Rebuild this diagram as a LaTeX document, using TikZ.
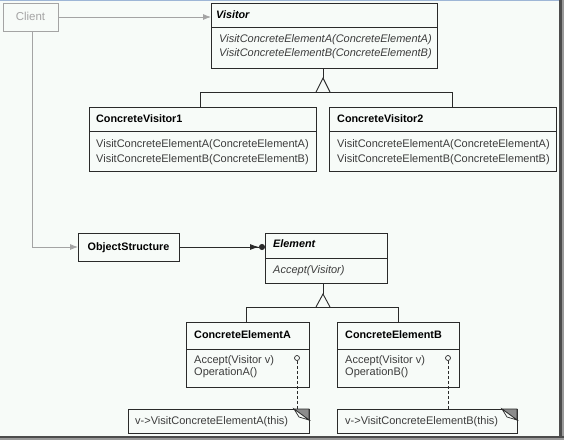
\documentclass[tikz,border=0pt]{standalone}
\usepackage{fontspec}
\setmainfont{Liberation Sans}
\usetikzlibrary{arrows.meta,calc}
\definecolor{bg}{HTML}{F7FBF8}
\definecolor{linec}{HTML}{2A2A2A}
\definecolor{txt}{HTML}{3C3C3C}
\definecolor{grayc}{HTML}{A4A4A4}
\definecolor{topblue}{HTML}{9EB6D6}
\definecolor{eargray}{HTML}{8C8C8C}
\begin{document}
\begin{tikzpicture}[x=1pt,y=-1pt,
  box/.style={draw=linec, line width=0.9pt, inner sep=0pt, outer sep=0pt, anchor=north west},
  graybox/.style={box, draw=grayc},
  lbl/.style={anchor=west, inner sep=0pt, text height=8pt, text depth=2pt, font=\fontsize{11}{12}\selectfont, text=txt},
  ttl/.style={lbl, text=black, font=\fontsize{10.8}{12}\selectfont\bfseries},
  abst/.style={lbl, text=black, font=\fontsize{10.8}{12}\selectfont\bfseries\itshape},
  opit/.style={lbl, font=\fontsize{11}{12}\selectfont\itshape},
  sepline/.style={draw=linec, line width=0.9pt},
  conn/.style={draw=linec, line width=0.9pt},
  grayconn/.style={draw=grayc, line width=0.8pt, -{Latex[length=8pt,width=6pt]}},
  pin/.style={circle, draw=linec, line width=0.7pt, minimum size=5pt, inner sep=0pt},
  notelink/.style={draw=linec, line width=0.9pt, dash pattern=on 3pt off 2pt},
]
\useasboundingbox (0,0) rectangle (564,440);
% frame
\fill[bg] (0,0) rectangle (559,436);
\fill[topblue] (0,0) rectangle (559,1.3);
\fill[black!70] (559,0) rectangle (561.5,440);
\fill[black!40] (561.5,0) rectangle (564,440);
\fill[black!70] (0,436) rectangle (564,438.2);
\fill[black!40] (0,438.2) rectangle (564,440);

% Client
\node[graybox, minimum width=55pt, minimum height=28pt] (client) at (3,3) {};
\node[lbl, anchor=center, text=grayc, font=\fontsize{11.5}{12}\selectfont] (clientt) at (client.center) {Client};

% Visitor
\node[box, minimum width=226pt, minimum height=65pt] (visitor) at (211,3) {};
\draw[sepline] (211,27) -- (437,27);
\node[abst] (visitort) at (216,15) {Visitor};
\node[opit] (v1) at (219,39) {VisitConcreteElementA(ConcreteElementA)};
\node[opit] (v2) at (219,53) {VisitConcreteElementB(ConcreteElementB)};

% ConcreteVisitor1
\node[box, minimum width=227pt, minimum height=64pt] (cv1) at (89,107) {};
\draw[sepline] (89,131) -- (316,131);
\node[ttl] (cv1t) at (96,119) {ConcreteVisitor1};
\node[lbl] (cv1a) at (96,144.5) {VisitConcreteElementA(ConcreteElementA)};
\node[lbl] (cv1b) at (96,159) {VisitConcreteElementB(ConcreteElementB)};

% ConcreteVisitor2
\node[box, minimum width=227pt, minimum height=64pt] (cv2) at (329,107) {};
\draw[sepline] (329,131) -- (556,131);
\node[ttl] (cv2t) at (337,119) {ConcreteVisitor2};
\node[lbl] (cv2a) at (337,144.5) {VisitConcreteElementA(ConcreteElementA)};
\node[lbl] (cv2b) at (337,159) {VisitConcreteElementB(ConcreteElementB)};

% ObjectStructure
\node[box, minimum width=101pt, minimum height=28pt] (os) at (78,233) {};
\node[ttl, anchor=center] (ost) at (os.center) {ObjectStructure};

% Element
\node[box, minimum width=122pt, minimum height=50pt] (element) at (265,233) {};
\draw[sepline] (265,258) -- (387,258);
\node[abst] (elt) at (273,244.5) {Element};
\node[opit] (ela) at (273,270.5) {Accept(Visitor)};

% ConcreteElementA
\node[box, minimum width=123pt, minimum height=65pt] (cea) at (186,322) {};
\draw[sepline] (186,349) -- (309,349);
\node[ttl] (ceat) at (194,335.5) {ConcreteElementA};
\node[lbl] (ceaa) at (194,360) {Accept(Visitor v)};
\node[lbl] (ceab) at (194,372) {OperationA()};
\node[pin] (pa) at (297,358) {};

% ConcreteElementB
\node[box, minimum width=122pt, minimum height=65pt] (ceb) at (337,322) {};
\draw[sepline] (337,349) -- (459,349);
\node[ttl] (cebt) at (345,335.5) {ConcreteElementB};
\node[lbl] (ceba) at (345,360) {Accept(Visitor v)};
\node[lbl] (cebb) at (345,372) {OperationB()};
\node[pin] (pb) at (448,358) {};

% Notes
\node[box, minimum width=181pt, minimum height=24pt] (notea) at (128,409) {};
\node[lbl] (noteat) at (135,421) {v->VisitConcreteElementA(this)};
\node[box, minimum width=180pt, minimum height=24pt] (noteb) at (337,409) {};
\node[lbl] (notebt) at (345,421) {v->VisitConcreteElementB(this)};
\foreach \n in {notea,noteb}{
  \filldraw[fill=eargray, draw=linec, line width=0.7pt] ($(\n.north east)+(-15,0)$) -- (\n.north east) -- ($(\n.north east)+(0,11)$) -- cycle;
  \filldraw[fill=bg, draw=linec, line width=0.7pt] ($(\n.north east)+(-15,0)$) -- ($(\n.north east)+(-10,8)$) -- ($(\n.north east)+(0,11)$) -- cycle;
}
\draw[notelink] (pa.south) -- (pa.south |- notea.north);
\draw[notelink] (pb.south) -- (pb.south |- noteb.north);

% Client connectors
\coordinate (cx) at (32,0);
\draw[grayconn] (client.east) -- (client.east -| visitor.west);
\draw[grayconn] (client.south -| cx) |- (os.west);

% Aggregation
\draw[conn, -{Latex[length=9pt,width=6pt] Circle[length=6pt]}] (os.east) -- (os.east -| element.west);

% Visitor inheritance
\coordinate (vt) at (323,78);
\coordinate (j1) at (200,92);
\coordinate (j2) at (452,92);
\draw[conn] (vt |- visitor.south) -- (vt);
\draw[conn, line join=miter] ($(vt)+(-7,14)$) -- (vt) -- ($(vt)+(7,14)$);
\draw[conn] (j1 |- cv1.north) -- (j1) -- (j2) -- (j2 |- cv2.north);

% Element inheritance
\coordinate (et) at (323,294);
\coordinate (k1) at (246,307);
\coordinate (k2) at (398,307);
\draw[conn] (et |- element.south) -- (et);
\draw[conn, line join=miter] ($(et)+(-7,13)$) -- (et) -- ($(et)+(7,13)$);
\draw[conn] (k1 |- cea.north) -- (k1) -- (k2) -- (k2 |- ceb.north);
\end{tikzpicture}
\end{document}
